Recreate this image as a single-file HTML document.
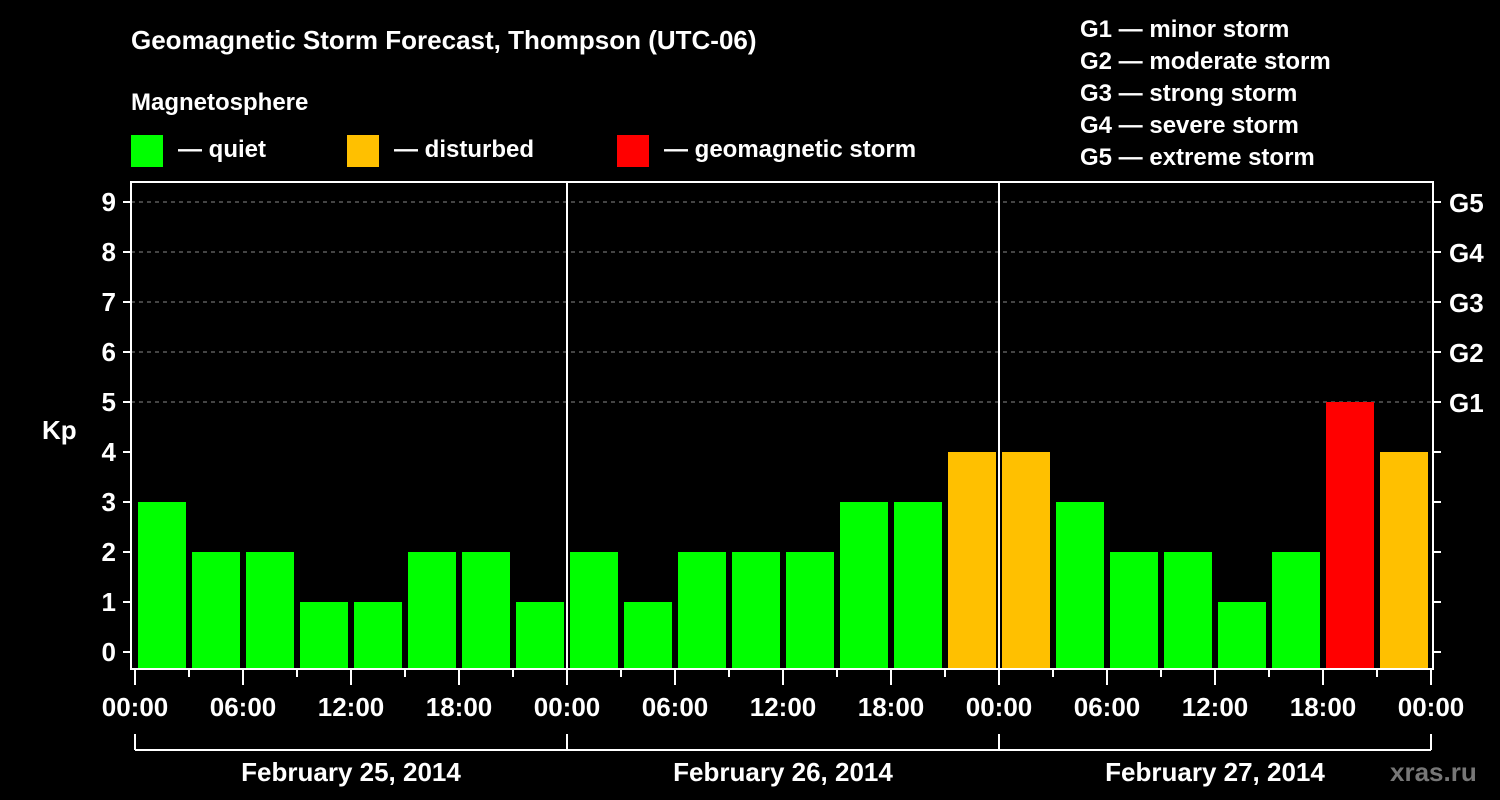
<!DOCTYPE html>
<html><head><meta charset="utf-8"><style>
html,body{margin:0;padding:0;background:#000;}
svg{display:block;font-family:"Liberation Sans",sans-serif;font-weight:bold;}
</style></head><body>
<svg id="c" width="1500" height="800" xmlns="http://www.w3.org/2000/svg">
<rect width="1500" height="800" fill="#000"/>
<text x="131" y="49" fill="#fff" font-size="26">Geomagnetic Storm Forecast, Thompson (UTC-06)</text>
<text x="131" y="110" fill="#fff" font-size="24">Magnetosphere</text>
<g><rect x="131" y="135" width="32" height="32" fill="#00ff00"/><text x="178" y="157" fill="#fff" font-size="24">— quiet</text></g>
<g><rect x="347" y="135" width="32" height="32" fill="#ffc000"/><text x="394" y="157" fill="#fff" font-size="24">— disturbed</text></g>
<g><rect x="617" y="135" width="32" height="32" fill="#ff0000"/><text x="664" y="157" fill="#fff" font-size="24">— geomagnetic storm</text></g>
<g fill="#fff" font-size="24">
<text x="1080" y="37">G1 — minor storm</text>
<text x="1080" y="69">G2 — moderate storm</text>
<text x="1080" y="101">G3 — strong storm</text>
<text x="1080" y="133">G4 — severe storm</text>
<text x="1080" y="165">G5 — extreme storm</text>
</g>
<text x="42" y="439" fill="#fff" font-size="26">Kp</text>
<text x="1390" y="781" fill="#777" font-size="26">xras.ru</text>
<g id="plot"></g>
</svg>
<script>
const kpValues=[3,2,2,1,1,2,2,1, 2,1,2,2,2,3,3,4, 4,3,2,2,1,2,5,4];
const dayLabels=["February 25, 2014","February 26, 2014","February 27, 2014"];
const timeLabels=["00:00","06:00","12:00","18:00"];
const kpTicks=[0,1,2,3,4,5,6,7,8,9];
const gLabels=["G1","G2","G3","G4","G5"];
const NS="http://www.w3.org/2000/svg";
const g=document.getElementById('plot');
const X0=135,SLOT=54,L=131,R=1433,T=182,B=669;
const xs=i=>X0+i*SLOT;
const ys=v=>652-50*v;
function mk(t,a,p){const e=document.createElementNS(NS,t);for(const k in a)e.setAttribute(k,a[k]);(p||g).appendChild(e);return e;}
// grid
for(let v=5;v<=9;v++){const l=mk('line',{x1:L,x2:R,y1:ys(v),y2:ys(v),stroke:'#888','stroke-dasharray':'4,4','stroke-width':1});

}
// bars
kpValues.forEach((v,i)=>{const col=v>=5?'#ff0000':(v>=4?'#ffc000':'#00ff00');
const r=mk('rect',{x:xs(i)+3,y:ys(v),width:48,height:B-1-ys(v),fill:col});

});
// day separators
for(let d=1;d<3;d++){const l=mk('line',{x1:xs(d*8),x2:xs(d*8),y1:T,y2:B,stroke:'#fff','stroke-width':2});

}
// frame
const f=mk('rect',{x:L,y:T,width:R-L,height:B-T,fill:'none',stroke:'#fff','stroke-width':2});


// y ticks
kpTicks.forEach(v=>{mk('line',{x1:123,x2:L,y1:ys(v),y2:ys(v),stroke:'#fff','stroke-width':2});
mk('line',{x1:R,x2:1441,y1:ys(v),y2:ys(v),stroke:'#fff','stroke-width':2});
const t=mk('text',{x:116,y:ys(v)+9,fill:'#fff','font-size':26,'text-anchor':'end'});t.textContent=v;

});
gLabels.forEach((s,i)=>{const t=mk('text',{x:1449,y:ys(5+i)+10,fill:'#fff','font-size':26});t.textContent=s;

});
// x ticks
for(let i=0;i<=24;i++){const long=i%2==0;mk('line',{x1:xs(i),x2:xs(i),y1:B,y2:long?685:677,stroke:'#fff','stroke-width':2});
if(long){const t=mk('text',{x:xs(i),y:716,fill:'#fff','font-size':26,'text-anchor':'middle'});t.textContent=timeLabels[(i/2)%4];

}}
// day brackets
mk('line',{x1:xs(0),x2:xs(24),y1:750,y2:750,stroke:'#fff','stroke-width':2});
for(let d=0;d<=3;d++)mk('line',{x1:xs(d*8),x2:xs(d*8),y1:734,y2:750,stroke:'#fff','stroke-width':2});
dayLabels.forEach((s,d)=>{const t=mk('text',{x:xs(d*8+4),y:781,fill:'#fff','font-size':26,'text-anchor':'middle'});t.textContent=s;

});
</script>
</body></html>
